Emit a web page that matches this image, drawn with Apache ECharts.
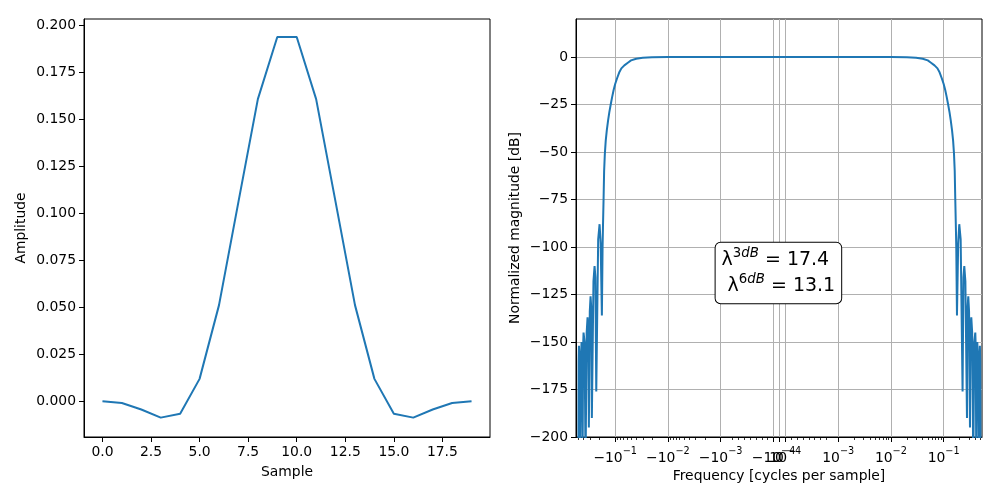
<!DOCTYPE html>
<html>
<head>
<meta charset="utf-8">
<title>Window and frequency response</title>
<script src="https://cdn.jsdelivr.net/npm/echarts@6.0.0/dist/echarts.min.js"></script>
<style>
  html, body { margin: 0; padding: 0; background: #fff; }
  #main { width: 1000px; height: 500px; }
</style>
</head>
<body>
<div id="main"></div>
<script>
'use strict';

// ---- left panel: filter taps ----
var samples = [0, 1, 2, 3, 4, 5, 6, 7, 8, 9, 10, 11, 12, 13, 14, 15, 16, 17, 18, 19];
var amplitude = [0.0000, -0.0009, -0.0044, -0.0087, -0.0066, 0.0119, 0.0511, 0.1060, 0.1606, 0.1936,
                 0.1936, 0.1606, 0.1060, 0.0511, 0.0119, -0.0066, -0.0087, -0.0044, -0.0009, 0.0000];
var sampleTicks = [0, 2.5, 5, 7.5, 10, 12.5, 15, 17.5];
var ampTicks = [0, 0.025, 0.05, 0.075, 0.1, 0.125, 0.15, 0.175, 0.2];

// ---- right panel: magnitude response (positive half; the curve is symmetric) ----
var freqPos = [0, 0.0001, 0.001, 0.01, 0.02, 0.03, 0.04, 0.05, 0.0575, 0.067, 0.0763, 0.084, 0.092, 0.1,
               0.107, 0.114, 0.1215, 0.129, 0.136, 0.144, 0.151, 0.157, 0.162, 0.166, 0.1705, 0.1733, 0.1787,
               0.1885, 0.1976, 0.210, 0.2283, 0.237, 0.2459, 0.258, 0.2767, 0.284, 0.2928, 0.303, 0.3154,
               0.324, 0.334, 0.347, 0.3644, 0.38, 0.3977, 0.405, 0.4153, 0.425, 0.4339, 0.445, 0.467,
               0.476, 0.486, 0.493, 0.4999];
var magPos = [0, 0, 0, 0, -0.1, -0.4, -0.9, -1.8, -3.0, -4.4, -6.0, -8.2, -11.2, -14.2,
              -17.4, -21, -25, -29, -33.2, -38.5, -44, -51, -60, -75, -90, -100, -136,
              -98, -88, -96, -176, -116, -110, -118, -190, -132, -126, -134, -195,
              -143, -137, -145, -215, -150, -145, -152, -215, -157, -150, -158, -215,
              -158, -152, -160, -215];
var dbTicks = [-200, -175, -150, -125, -100, -75, -50, -25, 0];
var freqTicks = [-0.1, -0.01, -0.001, -0.0001, 0, 0.0001, 0.001, 0.01, 0.1];
var freqTickText = [['−10', '−1'], ['−10', '−2'], ['−10', '−3'], ['−10', '−4'], ['0', ''],
                    ['10', '−4'], ['10', '−3'], ['10', '−2'], ['10', '−1']];
var freqMinor = [-0.5, -0.4, -0.3, -0.2,
                 -0.09, -0.08, -0.07, -0.06, -0.05, -0.04, -0.03, -0.02,
                 -0.009, -0.008, -0.007, -0.006, -0.005, -0.004, -0.003, -0.002,
                 -0.0008, -0.0007, -0.0006, -0.0005, -0.0004, -0.0003, -0.0002,
                 0.0002, 0.0003, 0.0004, 0.0005, 0.0006, 0.0007, 0.0008,
                 0.002, 0.003, 0.004, 0.005, 0.006, 0.007, 0.008, 0.009,
                 0.02, 0.03, 0.04, 0.05, 0.06, 0.07, 0.08, 0.09,
                 0.2, 0.3, 0.4, 0.5];
var freqLim = [-0.553, 0.533];
var lambda3dB = 17.4;
var lambda6dB = 13.1;

var FONT = "'DejaVu Sans', sans-serif";
var BLUE = '#1f77b4';

// symmetric log scale: linear inside +-1e-3, log decades outside
var LINTHRESH = 1e-3, LINSCALE = 1.114;
function symlog(f) {
    var a = Math.abs(f);
    var u = a <= LINTHRESH ? a / LINTHRESH * LINSCALE : LINSCALE + Math.log10(a / LINTHRESH);
    return f < 0 ? -u : u;
}

var leftData = samples.map(function (s, i) { return [s, amplitude[i]]; });
var rightData = [];
for (var i = freqPos.length - 1; i > 0; i--) {
    rightData.push([symlog(-freqPos[i]), magPos[i]]);
}
for (var j = 0; j < freqPos.length; j++) {
    rightData.push([symlog(freqPos[j]), magPos[j]]);
}
var majorU = freqTicks.map(symlog);
var minorU = freqMinor.map(symlog);

function minusFmt(v) {
    return v < 0 ? '−' + Math.abs(v) : String(v);
}

var tickLabel = { color: '#000', fontFamily: FONT, fontSize: 13.9 };
var axisName = { color: '#000', fontFamily: FONT, fontSize: 13.9 };
var blackLine = { color: '#000', width: 1 };

var chart = echarts.init(document.getElementById('main'), null, { renderer: 'canvas' });

var option = {
    animation: false,
    backgroundColor: '#fff',
    grid: [
        { left: 84, top: 19, width: 406, height: 418, show: true, borderColor: '#000', borderWidth: 1,
          backgroundColor: '#fff', outerBoundsMode: 'none' },
        { left: 576, top: 19, width: 406, height: 418, show: true, borderColor: '#000', borderWidth: 1,
          backgroundColor: '#fff', outerBoundsMode: 'none' }
    ],
    xAxis: [
        {
            gridIndex: 0, type: 'value', position: 'bottom', min: -0.95, max: 19.95,
            name: 'Sample', nameLocation: 'middle', nameGap: 28, nameTextStyle: axisName, nameMoveOverlap: false,
            axisLine: { show: true, onZero: false, lineStyle: blackLine },
            axisTick: { show: true, length: 5, customValues: sampleTicks, lineStyle: blackLine },
            axisLabel: Object.assign({ customValues: sampleTicks, margin: 8,
                formatter: function (v) { return v.toFixed(1); } }, tickLabel),
            splitLine: { show: false }
        },
        {
            gridIndex: 1, type: 'value', position: 'bottom', min: symlog(freqLim[0]), max: symlog(freqLim[1]),
            name: 'Frequency [cycles per sample]', nameLocation: 'middle', nameGap: 32,
            nameTextStyle: axisName, nameMoveOverlap: false,
            axisLine: { show: true, onZero: false, lineStyle: blackLine },
            axisTick: { show: true, length: 5, customValues: majorU, lineStyle: blackLine },
            axisLabel: {
                customValues: majorU, margin: 9, color: '#000', hideOverlap: false,
                formatter: function (v) {
                    var k = 0;
                    for (var n = 1; n < majorU.length; n++) {
                        if (Math.abs(majorU[n] - v) < Math.abs(majorU[k] - v)) k = n;
                    }
                    var t = freqTickText[k];
                    return t[1] ? '{b|' + t[0] + '}{s|' + t[1] + '}' : '{b|' + t[0] + '}';
                },
                rich: {
                    b: { color: '#000', fontFamily: FONT, fontSize: 13.9, lineHeight: 19, verticalAlign: 'bottom' },
                    s: { color: '#000', fontFamily: FONT, fontSize: 9.7, lineHeight: 10, verticalAlign: 'top' }
                }
            },
            splitLine: { show: true, lineStyle: { color: '#b0b0b0', width: 1 } }
        },
        {
            // minor ticks of the symlog axis
            gridIndex: 1, type: 'value', position: 'bottom', min: symlog(freqLim[0]), max: symlog(freqLim[1]),
            axisLine: { show: false, onZero: false },
            axisTick: { show: true, length: 3, customValues: minorU, lineStyle: { color: '#000', width: 0.8 } },
            axisLabel: { show: false },
            splitLine: { show: false }
        }
    ],
    yAxis: [
        {
            gridIndex: 0, type: 'value', position: 'left', min: -0.019, max: 0.2032,
            name: 'Amplitude', nameLocation: 'middle', nameGap: 56, nameTextStyle: axisName, nameMoveOverlap: false,
            axisLine: { show: true, onZero: false, lineStyle: blackLine },
            axisTick: { show: true, length: 5, customValues: ampTicks, lineStyle: blackLine },
            axisLabel: Object.assign({ customValues: ampTicks, margin: 8,
                formatter: function (v) { return v.toFixed(3); } }, tickLabel),
            splitLine: { show: false }
        },
        {
            gridIndex: 1, type: 'value', position: 'left', min: -200, max: 20,
            name: 'Normalized magnitude [dB]', nameLocation: 'middle', nameGap: 54,
            nameTextStyle: axisName, nameMoveOverlap: false,
            axisLine: { show: true, onZero: false, lineStyle: blackLine },
            axisTick: { show: true, length: 5, customValues: dbTicks, lineStyle: blackLine },
            axisLabel: Object.assign({ customValues: dbTicks, margin: 8, formatter: minusFmt }, tickLabel),
            splitLine: { show: true, lineStyle: { color: '#b0b0b0', width: 1 } }
        }
    ],
    series: [
        {
            type: 'line', xAxisIndex: 0, yAxisIndex: 0, data: leftData,
            showSymbol: false, lineStyle: { color: BLUE, width: 2 }, itemStyle: { color: BLUE }
        },
        {
            type: 'line', xAxisIndex: 1, yAxisIndex: 1, data: rightData, clip: true,
            showSymbol: false, lineStyle: { color: BLUE, width: 2 }, itemStyle: { color: BLUE }
        }
    ],
    graphic: [
        {
            type: 'text', x: 778.4, y: 273, z: 100,
            style: {
                text: '{l|λ}{s|3}{i|dB}{e| = ' + lambda3dB.toFixed(1) + '}\n' +
                      '{sp|}{l|λ}{s|6}{i|dB}{e| = ' + lambda6dB.toFixed(1) + '}',
                align: 'center', verticalAlign: 'middle',
                backgroundColor: '#fff', borderColor: '#000', borderWidth: 1, borderRadius: 5,
                padding: [4, 6, 4.6, 6],
                rich: {
                    l: { align: 'left', fontFamily: FONT, fontSize: 19, lineHeight: 26, fill: '#000' },
                    s: { align: 'left', fontFamily: FONT, fontSize: 13.3, lineHeight: 13, verticalAlign: 'top', fill: '#000' },
                    i: { align: 'left', fontFamily: FONT, fontSize: 13.3, lineHeight: 13, verticalAlign: 'top',
                         fontStyle: 'italic', fill: '#000' },
                    e: { align: 'left', fontFamily: FONT, fontSize: 19, lineHeight: 26, fill: '#000' },
                    sp: { align: 'left', width: 6, lineHeight: 26 }
                }
            }
        }
    ]
};

chart.setOption(option);
</script>
</body>
</html>
